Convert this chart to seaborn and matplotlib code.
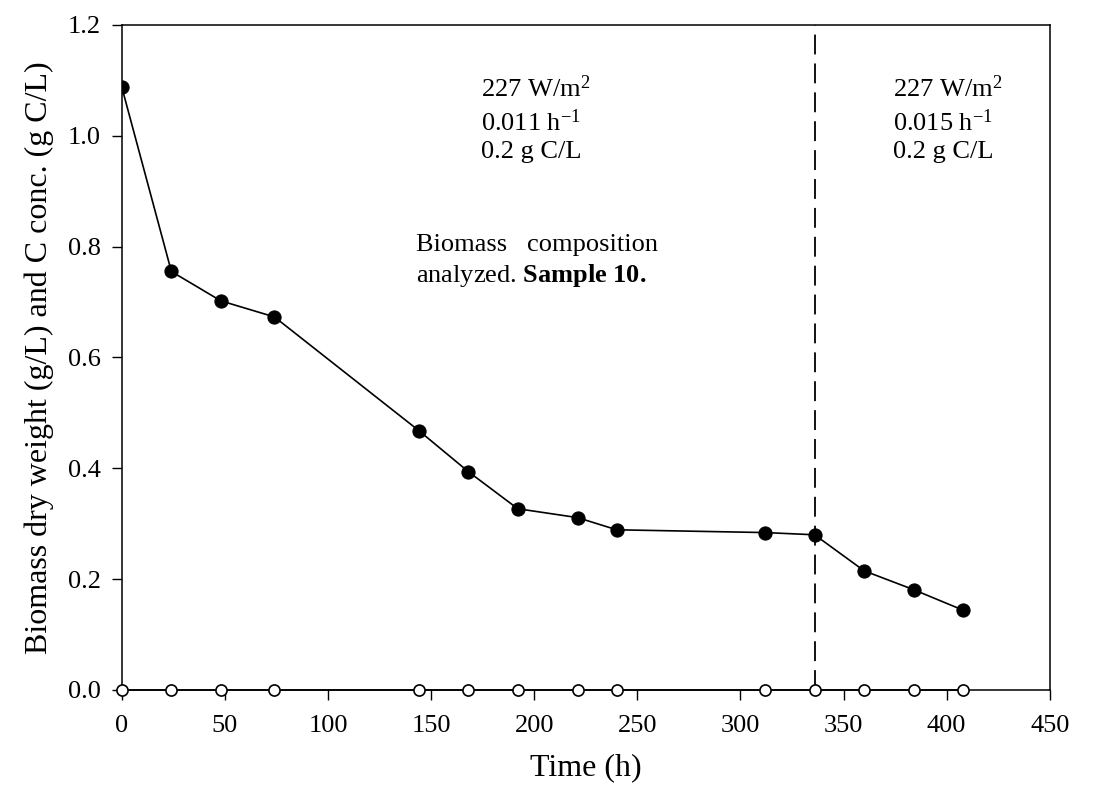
import matplotlib
matplotlib.use("Agg")
import matplotlib.pyplot as plt
import seaborn as sns
import pandas as pd

time_h = [0, 24, 48, 74, 144, 168, 192, 221, 240, 312, 336, 360, 384, 408]
biomass = [1.087, 0.755, 0.702, 0.673, 0.468, 0.394, 0.327, 0.311, 0.289, 0.284, 0.280, 0.215, 0.181, 0.144]
carbon = [0, 0, 0, 0, 0, 0, 0, 0, 0, 0, 0, 0, 0, 0]
switch_time = 336
xticks = [0, 50, 100, 150, 200, 250, 300, 350, 400, 450]
yticks = [0.0, 0.2, 0.4, 0.6, 0.8, 1.0, 1.2]

sns.set_style("white")
plt.rcParams['font.family'] = ['Liberation Serif', 'DejaVu Serif']
plt.rcParams['mathtext.fontset'] = 'custom'
plt.rcParams['mathtext.rm'] = 'Liberation Serif'
plt.rcParams['mathtext.it'] = 'Liberation Serif:italic'
plt.rcParams['mathtext.bf'] = 'Liberation Serif:bold'
plt.rcParams['text.color'] = 'black'
plt.rcParams['axes.labelcolor'] = 'black'
plt.rcParams['xtick.color'] = 'black'
plt.rcParams['ytick.color'] = 'black'

df = pd.DataFrame({"t": time_h, "bio": biomass, "c": carbon})

fig = plt.figure(figsize=(10.98, 8.0), dpi=100)
ax = fig.add_axes([0.111, 0.1375, 0.845, 0.8315])

ax.axvline(switch_time, color="black", lw=1.3, linestyle=(0, (11, 5)), zorder=1)

sns.lineplot(data=df, x="t", y="bio", ax=ax, color="black", lw=1.2,
             marker="o", markersize=9.5, markerfacecolor="black",
             markeredgecolor="black", zorder=3)
sns.lineplot(data=df, x="t", y="c", ax=ax, color="black", lw=1.2,
             marker="o", markersize=8, markerfacecolor="white",
             markeredgecolor="black", markeredgewidth=1.2, zorder=4,
             clip_on=False)

ax.set_xlim(0, 450)
ax.set_ylim(0, 1.2)
ax.set_xticks(xticks)
ax.set_yticks(yticks)
ax.set_xticklabels([str(v) for v in xticks])
ax.set_yticklabels([f"{v:.1f}" for v in yticks])
ax.tick_params(axis="both", direction="out", length=7, width=1, labelsize=19,
               bottom=True, left=True, top=False, right=False,
               color="black", labelcolor="black")
ax.tick_params(axis="x", pad=11)
ax.tick_params(axis="y", pad=8)
for s in ax.spines.values():
    s.set_visible(True)
    s.set_color("black")
    s.set_linewidth(1.1)

ax.set_xlabel("Time (h)", fontsize=23, labelpad=12, color="black")
ax.set_ylabel("Biomass dry weight (g/L) and C conc. (g C/L)", fontsize=23,
              labelpad=10, color="black")

ax.text(174, 1.108, "227 W/m$^{2}$\n0.011 h$^{-1}$\n0.2 g C/L", fontsize=19,
        va="top", ha="left", linespacing=1.32, color="black")
ax.text(374, 1.108, "227 W/m$^{2}$\n0.015 h$^{-1}$\n0.2 g C/L", fontsize=19,
        va="top", ha="left", linespacing=1.32, color="black")
ax.text(142.5, 0.822, "Biomass   composition\nanalyzed. $\\mathbf{Sample\\ 10.}$", fontsize=19,
        va="top", ha="left", linespacing=1.3, color="black")

fig.savefig("out.png", dpi=100)
